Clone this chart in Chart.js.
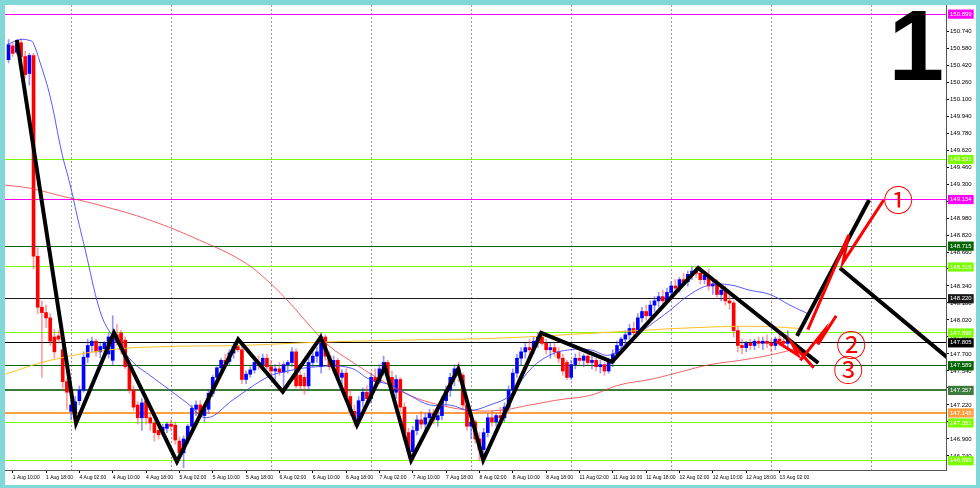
<!DOCTYPE html>
<html><head><meta charset="utf-8">
<script src="https://cdn.jsdelivr.net/npm/chart.js@4/dist/chart.umd.min.js"></script>
<style>html,body{margin:0;padding:0;background:#80d8d8;overflow:hidden}canvas{display:block}</style>
</head><body>
<canvas id="c" width="980" height="488"></canvas>
<script>
// ---------------- DATA ----------------
const startIndex = -1; // first candle = 1 Aug 09:00 (index 0 = 1 Aug 10:00)
const opens = [150.47,150.60,150.54,150.63,150.50,150.34,150.51,148.62,148.14,148.09,148.04,147.86,147.87,147.74,147.44,147.16,147.14,147.26,147.36,147.67,147.78,147.82,147.72,147.75,147.70,147.64,147.88,147.90,147.83,147.58,147.36,147.22,147.10,147.26,147.10,147.05,146.98,146.98,147.00,147.04,147.03,146.88,146.77,146.90,147.02,147.18,147.22,147.12,147.18,147.33,147.48,147.57,147.64,147.63,147.71,147.77,147.74,147.46,147.51,147.55,147.62,147.60,147.66,147.58,147.54,147.56,147.53,147.60,147.62,147.72,147.50,147.48,147.40,147.62,147.68,147.58,147.86,147.68,147.58,147.64,147.48,147.52,147.30,147.16,147.08,147.26,147.34,147.28,147.48,147.44,147.56,147.62,147.48,147.34,147.46,147.20,146.96,146.78,146.98,147.08,147.04,147.10,147.14,147.08,147.12,147.26,147.36,147.48,147.56,147.50,147.22,147.02,147.06,146.90,146.80,146.96,147.10,147.06,147.12,147.10,147.20,147.36,147.52,147.66,147.72,147.76,147.74,147.82,147.86,147.80,147.74,147.76,147.72,147.66,147.62,147.48,147.60,147.66,147.64,147.68,147.62,147.64,147.58,147.60,147.54,147.62,147.70,147.78,147.84,147.88,147.94,147.90,148.04,148.10,148.06,148.16,148.20,148.24,148.20,148.28,148.34,148.32,148.40,148.38,148.45,148.48,148.46,148.40,148.44,148.34,148.36,148.26,148.30,148.20,148.18,147.92,147.78,147.76,147.80,147.78,147.82,147.80,147.82,147.80,147.78,147.84,147.82,147.80];
const highs = [150.66,150.63,150.66,150.67,150.55,150.53,150.53,148.70,148.20,148.16,148.08,147.93,147.92,147.80,147.47,147.27,147.30,147.40,147.72,147.84,147.86,147.84,147.80,147.82,147.90,148.06,147.98,147.92,147.86,147.62,147.40,147.25,147.28,147.30,147.14,147.08,147.02,147.04,147.06,147.08,147.06,146.92,146.93,147.04,147.22,147.26,147.26,147.22,147.36,147.50,147.58,147.66,147.70,147.74,147.80,147.86,147.78,147.54,147.58,147.66,147.68,147.70,147.70,147.64,147.60,147.62,147.62,147.64,147.76,147.75,147.54,147.52,147.68,147.72,147.76,147.90,147.88,147.72,147.68,147.66,147.55,147.56,147.36,147.22,147.30,147.38,147.40,147.52,147.56,147.60,147.68,147.64,147.54,147.50,147.48,147.24,147.00,147.02,147.12,147.16,147.14,147.18,147.18,147.16,147.30,147.40,147.52,147.60,147.62,147.52,147.28,147.10,147.08,146.96,147.00,147.14,147.16,147.14,147.20,147.24,147.40,147.56,147.70,147.76,147.80,147.84,147.86,147.90,147.90,147.84,147.80,147.80,147.76,147.70,147.64,147.64,147.70,147.72,147.70,147.72,147.68,147.66,147.64,147.62,147.66,147.74,147.82,147.86,147.92,147.98,148.00,148.08,148.14,148.16,148.20,148.24,148.28,148.30,148.32,148.38,148.40,148.42,148.46,148.48,148.52,148.52,148.50,148.48,148.50,148.40,148.40,148.34,148.34,148.26,148.20,147.96,147.84,147.82,147.84,147.84,147.86,147.86,147.88,147.84,147.86,147.90,147.88,147.92];
const lows = [150.44,150.50,150.52,150.48,150.30,150.23,148.50,148.08,147.48,147.95,147.78,147.66,147.80,147.38,147.18,147.08,147.05,147.22,147.34,147.62,147.72,147.68,147.66,147.70,147.66,147.60,147.78,147.70,147.56,147.33,147.17,147.04,146.98,147.04,146.98,146.88,146.90,146.94,146.96,146.98,146.85,146.70,146.63,146.86,146.98,147.12,147.10,147.06,147.14,147.30,147.44,147.52,147.58,147.60,147.66,147.72,147.42,147.42,147.48,147.52,147.56,147.58,147.56,147.48,147.46,147.50,147.38,147.52,147.58,147.38,147.36,147.32,147.36,147.58,147.62,147.52,147.64,147.55,147.52,147.45,147.40,147.26,147.12,147.02,147.04,147.20,147.22,147.24,147.40,147.42,147.50,147.44,147.30,147.28,147.16,146.92,146.72,146.70,146.94,147.00,146.98,147.06,147.04,147.02,147.08,147.22,147.30,147.40,147.44,147.18,146.98,146.90,146.86,146.70,146.70,146.92,147.02,147.02,147.06,147.06,147.16,147.30,147.48,147.60,147.66,147.68,147.70,147.76,147.78,147.70,147.66,147.68,147.62,147.50,147.46,147.46,147.56,147.60,147.58,147.60,147.56,147.54,147.52,147.50,147.52,147.58,147.66,147.72,147.78,147.84,147.86,147.88,148.00,148.02,148.04,148.10,148.14,148.16,148.18,148.24,148.28,148.28,148.34,148.34,148.40,148.42,148.36,148.36,148.30,148.26,148.22,148.20,148.16,148.12,147.86,147.72,147.70,147.72,147.74,147.74,147.76,147.74,147.76,147.72,147.74,147.78,147.76,147.76];
const closes = [150.61,150.53,150.62,150.50,150.33,150.51,148.62,148.14,148.09,148.04,147.82,147.72,147.84,147.44,147.34,147.22,147.25,147.36,147.67,147.78,147.82,147.72,147.77,147.80,147.86,147.88,147.81,147.74,147.58,147.36,147.20,147.10,147.24,147.10,147.05,146.96,146.94,147.01,147.04,147.02,146.89,146.77,146.90,147.02,147.19,147.22,147.13,147.18,147.33,147.48,147.57,147.64,147.62,147.71,147.77,147.74,147.46,147.51,147.55,147.62,147.60,147.66,147.58,147.54,147.56,147.53,147.60,147.62,147.72,147.40,147.40,147.40,147.62,147.68,147.72,147.86,147.68,147.58,147.64,147.48,147.52,147.30,147.16,147.08,147.26,147.34,147.28,147.48,147.44,147.56,147.62,147.48,147.34,147.46,147.20,146.96,146.78,146.98,147.08,147.04,147.10,147.14,147.08,147.12,147.26,147.36,147.48,147.56,147.50,147.22,147.02,147.06,146.90,146.80,146.96,147.10,147.06,147.12,147.10,147.20,147.36,147.52,147.66,147.72,147.76,147.74,147.82,147.86,147.80,147.74,147.76,147.72,147.66,147.54,147.48,147.60,147.66,147.64,147.68,147.62,147.64,147.58,147.60,147.54,147.62,147.70,147.78,147.84,147.88,147.94,147.90,148.04,148.10,148.06,148.16,148.20,148.24,148.20,148.28,148.34,148.32,148.40,148.38,148.45,148.48,148.46,148.40,148.44,148.34,148.36,148.26,148.30,148.20,148.18,147.92,147.78,147.76,147.80,147.78,147.82,147.80,147.82,147.80,147.78,147.84,147.82,147.80,147.84];

const timeLabels = ['1 Aug 10:00','1 Aug 18:00','4 Aug 02:00','4 Aug 10:00','4 Aug 18:00','5 Aug 02:00','5 Aug 10:00','5 Aug 18:00','6 Aug 02:00','6 Aug 10:00','6 Aug 18:00','7 Aug 02:00','7 Aug 10:00','7 Aug 18:00','8 Aug 02:00','8 Aug 10:00','8 Aug 18:00','11 Aug 02:00','11 Aug 10:00','11 Aug 18:00','12 Aug 02:00','12 Aug 10:00','12 Aug 18:00','13 Aug 02:00'];
const labelEvery = 8;                 // one time label every 8 hourly bars
const dayStarts = [14, 38, 62, 86, 110, 134, 158, 182, 206]; // bar index of each 00:00
const priceTicks = [150.74,150.58,150.42,150.26,150.10,149.94,149.78,149.62,149.46,149.30,149.14,148.98,148.82,148.66,148.50,148.34,148.18,148.02,147.86,147.70,147.54,147.38,147.22,147.06,146.90,146.74];
const levelValues = [150.899,149.531,149.154,148.715,148.519,148.220,147.898,147.805,147.589,147.357,147.145,147.051,146.695];

// moving averages read at sampled bars: [barIndex, price]
const maFast = [[-1.4,150.61],[1.8,150.66],[4.2,150.65],[4.9,150.63],[6.6,150.44],[9.0,150.12],[11.8,149.59],[13.8,149.29],[15.7,148.96],[17.4,148.68],[20.9,148.11],[23.4,147.90],[28.9,147.62],[32.9,147.50],[37.7,147.36],[41.8,147.24],[46.6,147.10],[52.9,147.27],[61.0,147.48],[64.9,147.53],[73.0,147.58],[80.9,147.57],[85.7,147.46],[90.5,147.41],[95.3,147.31],[100.1,147.22],[104.9,147.22],[109.7,147.17],[114.5,147.22],[119.3,147.31],[124.1,147.55],[128.9,147.69],[133.7,147.74],[138.5,147.74],[143.3,147.69],[148.1,147.83],[152.9,147.97],[157.7,148.11],[162.5,148.26],[167.3,148.35],[172.1,148.35],[176.9,148.30],[181.7,148.26],[186.5,148.16],[191.3,148.07]];
const maMid = [[-1.8,149.29],[4.2,149.26],[11.4,149.19],[20.9,149.10],[32.9,148.96],[44.9,148.77],[55.3,148.57],[61.7,148.37],[66.5,148.18],[72.1,147.93],[76.1,147.77],[80.9,147.64],[88.1,147.46],[95.3,147.31],[102.5,147.22],[109.7,147.17],[116.9,147.17],[124.1,147.22],[131.3,147.27],[138.5,147.31],[145.7,147.41],[152.9,147.46],[160.1,147.53],[167.3,147.60],[174.5,147.64],[181.7,147.69],[189.0,147.76]];
const maSlow = [[-1.8,147.51],[9.0,147.64],[23.4,147.74],[37.0,147.77],[54.5,147.78],[73.0,147.81],[93.0,147.83],[116.9,147.85],[140.9,147.90],[164.9,147.95],[179.3,147.96],[189.0,147.94]];

// hand-drawn analysis lines: [barIndex, price]
const zigzag = [[1.0,150.655],[15.2,147.048],[24.3,147.90],[39.4,146.686],[54.1,147.838],[64.8,147.345],[73.9,147.857],[82.6,147.03],[89.3,147.578],[95.6,146.70],[106.9,147.559],[112.9,146.70],[126.8,147.898],[143.8,147.625],[164.5,148.51],[193.3,147.615]];
const scenarioUp = [[188.2,147.87],[205.5,149.15]];
const scenarioDown = [[198.5,148.51],[224.5,147.66]];
const red1 = [[190.8,147.93],[200.6,148.82],[199.2,148.56],[209.0,149.15]];
const red2 = [[189.0,147.64],[194.5,147.91],[193.2,147.79],[197.6,148.06]];
const red3 = [[183.2,147.82],[188.4,147.69],[187.0,147.80],[192.2,147.57]];
const circledMarks = [['\u2460',212.5,149.15],['\u2461',201.2,147.785],['\u2462',200.5,147.55]];
const bigLabel = '1';

// ---------------- STYLE ----------------
const UP = '#0000ff', DOWN = '#ff0000';
const UP_W = 'rgba(60,60,255,0.55)', DOWN_W = 'rgba(255,60,60,0.5)';
const levelColors = ['#ff00ff','#7cfc00','#ff00ff','#006400','#7cfc00','#1a1a1a','#7cfc00','#000000','#006400','#3d7a3d','#ffa040','#7cfc00','#7cfc00'];
const levelWidths = [1,1,1,1,1,1,1,1,1,2,2,1,1];
const yFont = {family:'Liberation Sans', size:6};
const xFont = {family:'Liberation Sans', size:5};

const xs = opens.map((_, k) => startIndex + k);
const isUp = k => closes[k] >= opens[k];
const pts = arr => arr.map(p => ({x:p[0], y:p[1]}));

const allYTicks = priceTicks.map(v => ({value:v, level:-1})).concat(levelValues.map((v,i)=>({value:v, level:i})));
const labelTickValues = timeLabels.map((_, k) => k * labelEvery);

const bgPlugin = {
  id:'bg',
  beforeDraw(chart){
    const c = chart.ctx;
    c.save();
    c.fillStyle = '#80d8d8'; c.fillRect(0,0,chart.width,chart.height);
    c.fillStyle = '#ffffff'; c.fillRect(5,5,971,480);
    c.restore();
  }
};
const textPlugin = {
  id:'texts',
  afterDatasetsDraw(chart){
    const c = chart.ctx, x = chart.scales.x, y = chart.scales.y;
    c.save();
    c.fillStyle = '#ff0000';
    c.font = '30px "Noto Sans CJK JP"';
    c.textAlign = 'center'; c.textBaseline = 'middle';
    circledMarks.forEach(m => c.fillText(m[0], x.getPixelForValue(m[1]), y.getPixelForValue(m[2])));
    c.fillStyle = '#000';
    c.font = 'bold 100px "Liberation Sans"';
    c.textAlign = 'right'; c.textBaseline = 'top';
    c.fillText(bigLabel, chart.chartArea.right - 2, 2);
    c.restore();
  }
};

new Chart(document.getElementById('c'), {
  data: {
    datasets: [
      {type:'bar', label:'wick', data: xs.map((x,k)=>({x, y:[lows[k], highs[k]]})), backgroundColor: xs.map((_,k)=> isUp(k)?UP_W:DOWN_W), barThickness:1, grouped:false, order:20},
      {type:'bar', label:'body', data: xs.map((x,k)=>({x, y:[opens[k], closes[k]]})), backgroundColor: xs.map((_,k)=> isUp(k)?UP:DOWN), barThickness:3, minBarLength:1, grouped:false, order:19},
      {type:'line', label:'MA slow', data: pts(maSlow), borderColor:'#ffc020', borderWidth:1, pointRadius:0, tension:0.4, order:12},
      {type:'line', label:'MA mid', data: pts(maMid), borderColor:'rgba(240,60,60,0.8)', borderWidth:1, pointRadius:0, tension:0.4, order:11},
      {type:'line', label:'MA fast', data: pts(maFast), borderColor:'rgba(60,60,255,0.85)', borderWidth:1, pointRadius:0, tension:0.4, order:10},
      {type:'line', label:'zigzag', data: pts(zigzag), borderColor:'#000', borderWidth:4, pointRadius:0, order:3, borderJoinStyle:'miter'},
      {type:'line', label:'up', data: pts(scenarioUp), borderColor:'#000', borderWidth:4, pointRadius:0, order:3},
      {type:'line', label:'down', data: pts(scenarioDown), borderColor:'#000', borderWidth:4, pointRadius:0, order:3},
      {type:'line', label:'r1', data: pts(red1), borderColor:'#ff0000', borderWidth:3, pointRadius:0, order:2},
      {type:'line', label:'r2', data: pts(red2), borderColor:'#ff0000', borderWidth:3, pointRadius:0, order:2},
      {type:'line', label:'r3', data: pts(red3), borderColor:'#ff0000', borderWidth:3, pointRadius:0, order:2}
    ]
  },
  options: {
    responsive:false, animation:false, events:[],
    layout:{padding:{left:5, top:5, right:4, bottom:3}},
    plugins:{legend:{display:false}, tooltip:{enabled:false}},
    scales:{
      x:{type:'linear', position:'bottom', min:-1.85, max:223.95, offset:false,
        afterBuildTicks: s => { s.ticks = labelTickValues.map(v=>({value:v})); },
        afterFit: s => { s.height = 15; },
        ticks:{autoSkip:false, maxRotation:0, align:'start', padding:2, font:xFont, color:'#000',
          callback:(v)=> timeLabels[Math.round(v/labelEvery)]},
        grid:{drawOnChartArea:false, drawTicks:true, tickLength:3, tickColor:'#000', offset:false},
        border:{color:'#555'}
      },
      xd:{type:'linear', position:'bottom', min:-1.85, max:223.95, offset:false,
        afterBuildTicks: s => { s.ticks = dayStarts.map(v=>({value:v})); },
        afterFit: s => { s.height = 0; },
        ticks:{display:false},
        grid:{drawOnChartArea:true, drawTicks:false, color:'#9a9a9a', lineWidth:1},
        border:{display:false, dash:[2,2]}
      },
      y:{type:'linear', position:'right', min:146.608, max:150.985,
        afterBuildTicks: s => { s.ticks = allYTicks.map(t=>({value:t.value})); },
        afterFit: s => { s.width = 30; },
        ticks:{autoSkip:false, padding:1, font:yFont, showLabelBackdrop:true,
          backdropPadding:{top:1,bottom:1,left:2,right:2},
          backdropColor: ctx => { const t = allYTicks[ctx.index]; return t && t.level>=0 ? levelColors[t.level] : 'rgba(0,0,0,0)'; },
          color: ctx => { const t = allYTicks[ctx.index]; return t && t.level>=0 ? '#ffffff' : '#000000'; },
          callback:(v)=> Number(v).toFixed(3)},
        grid:{drawOnChartArea:true, drawTicks:true, tickLength:3,
          color: ctx => { const t = allYTicks[ctx.index]; return t && t.level>=0 ? levelColors[t.level] : 'rgba(0,0,0,0)'; },
          lineWidth: ctx => { const t = allYTicks[ctx.index]; return t && t.level>=0 ? levelWidths[t.level] : 1; },
          tickColor: ctx => { const t = allYTicks[ctx.index]; return t && t.level>=0 ? 'rgba(0,0,0,0)' : '#000'; }},
        border:{color:'#555'}
      }
    }
  },
  plugins:[bgPlugin, textPlugin]
});
</script>
</body></html>
